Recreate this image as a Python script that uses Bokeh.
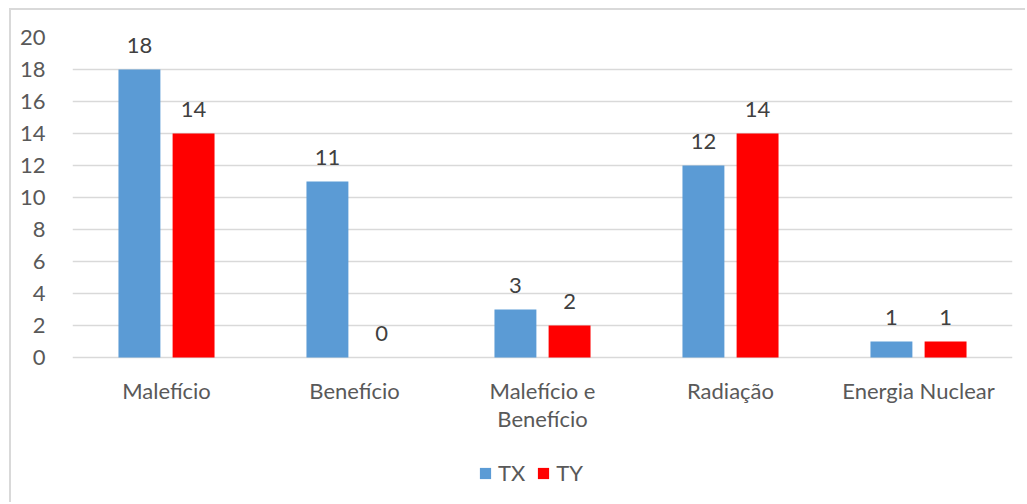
from bokeh.plotting import figure
from bokeh.models import ColumnDataSource, FactorRange, LabelSet, Legend, LegendItem, FixedTicker
from bokeh.core.properties import value
from bokeh.transform import dodge
from bokeh.embed import file_html
from bokeh.resources import INLINE

categories = ["Malefício", "Benefício", "Malefício e\nBenefício", "Radiação", "Energia Nuclear"]
tx = [18, 11, 3, 12, 1]
ty = [14, 0, 2, 14, 1]
series_names = ["TX", "TY"]
y_ticks = [0, 2, 4, 6, 8, 10, 12, 14, 16, 18, 20]
colors = ["#5B9BD5", "#FF0000"]

FONT = "Lato"
FS = "22px"
src = ColumnDataSource(dict(cat=categories, tx=tx, ty=ty, zero=[0] * len(categories),
                            txs=[str(v) for v in tx], tys=[str(v) for v in ty]))

p = figure(x_range=FactorRange(*categories, range_padding=0), y_range=(-9, 20),
           width=1016, height=494, output_backend="svg", toolbar_location=None,
           min_border_left=61, min_border_right=15, min_border_top=27, min_border_bottom=3)
p.margin = (8, 0, 0, 9)
p.styles = {"border-left": "2px solid #d9d9d9", "border-top": "2px solid #d9d9d9"}
p.outline_line_color = None
p.background_fill_color = "white"
p.border_fill_color = "white"

r1 = p.vbar(x=dodge("cat", -0.144, range=p.x_range), top="tx", width=0.223, source=src,
            color=colors[0], line_color=None)
r2 = p.vbar(x=dodge("cat", 0.144, range=p.x_range), top="ty", width=0.223, source=src,
            color=colors[1], line_color=None)

for col, off, top in (("txs", -0.144, "tx"), ("tys", 0.144, "ty")):
    ls = LabelSet(x=dodge("cat", off, range=p.x_range), y=top, text=col, source=src,
                  text_align="center", text_baseline="bottom", y_offset=17,
                  text_font=value(FONT), text_font_size=FS, text_color="#404040")
    p.add_layout(ls)

# category labels under the baseline
p.text(x="cat", y="zero", text="cat", source=src, text_align="center", text_baseline="top",
       y_offset=19, text_font=value(FONT), text_font_size=FS, text_color="#595959",
       text_line_height=1.06)

p.xaxis.visible = False
p.xgrid.grid_line_color = None
p.ygrid.grid_line_color = "#d9d9d9"
p.ygrid.grid_line_width = 1.5
p.yaxis.ticker = FixedTicker(ticks=y_ticks)
p.yaxis.axis_line_color = None
p.yaxis.major_tick_line_color = None
p.yaxis.minor_tick_line_color = None
p.yaxis.major_label_text_font = FONT
p.yaxis.major_label_text_font_size = FS
p.yaxis.major_label_text_color = "#595959"
p.yaxis.major_label_standoff = 21

legend = Legend(items=[LegendItem(label=series_names[0], renderers=[r1]),
                       LegendItem(label=series_names[1], renderers=[r2])],
                orientation="horizontal", location=(406, 15),
                glyph_width=14, glyph_height=14, label_text_font=FONT,
                label_text_font_size=FS, label_text_color="#595959",
                padding=0, margin=0, spacing=11, label_standoff=6,
                border_line_color=None, background_fill_alpha=0)
p.add_layout(legend, "center")

open("out.html", "w").write(file_html(p, INLINE))
